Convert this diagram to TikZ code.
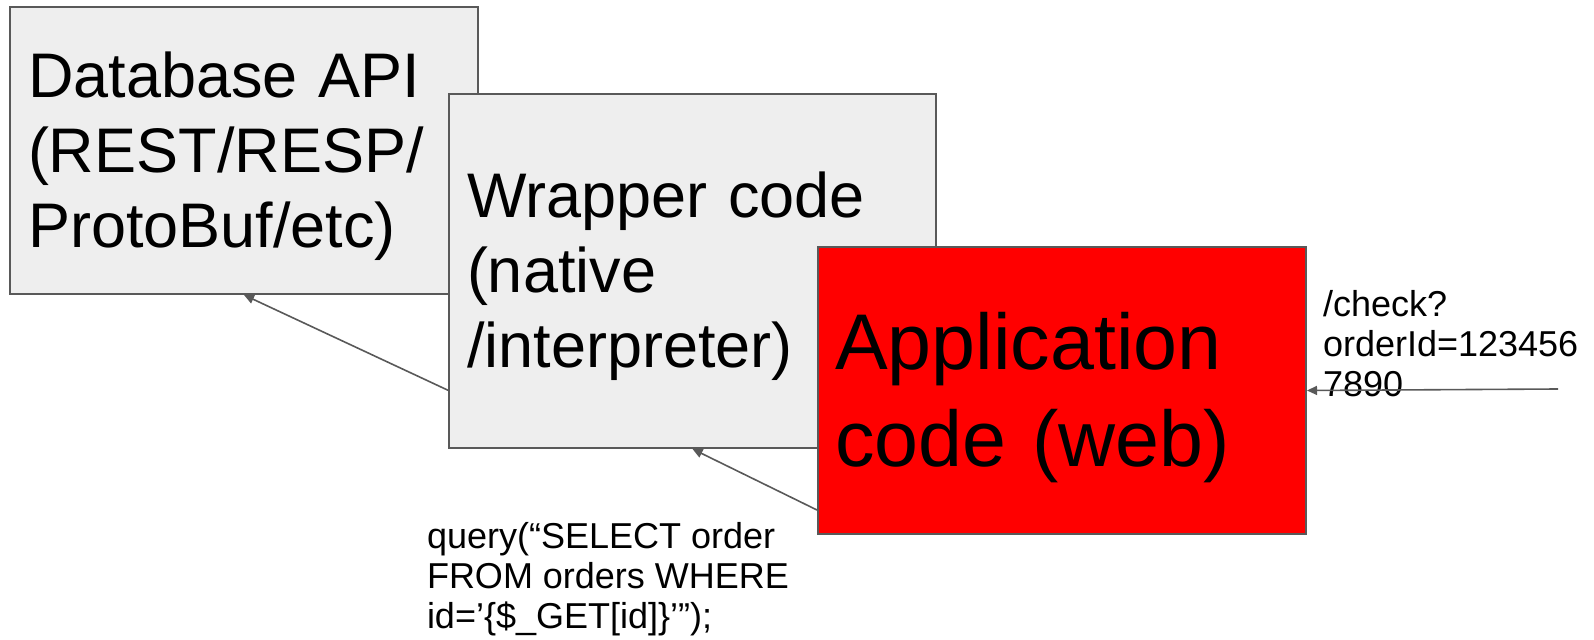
\documentclass[tikz,border=0pt]{standalone}
\usepackage{fontspec}
\setmainfont{Liberation Sans}
\usetikzlibrary{arrows.meta}
\definecolor{boxgray}{HTML}{EEEEEE}
\definecolor{linegray}{HTML}{595959}
\definecolor{appred}{HTML}{FF0000}
\newcommand{\topstrut}{\rule{0pt}{0.9em}}

\begin{document}
\begin{tikzpicture}[
		x=0.5pt, y=-0.5pt,
		line width=1pt,
		box/.style={draw=linegray, fill=boxgray, anchor=north west, align=left, inner ysep=0pt},
		arrow/.style={draw=linegray, line width=0.8pt, -{Triangle[length=5pt, width=4.5pt]}},
		note/.style={anchor=north west, align=left, inner sep=0pt, font=\fontsize{18}{20}\selectfont},
	]
	\useasboundingbox (0,0) rectangle (1594,640);

	\node (db) [box, inner xsep=9pt, text width=216pt, minimum height=143.5pt,
		font=\fontsize{31.5}{37.5}\selectfont] at (9,6) {\topstrut Database API\\(REST/RESP/\\ProtoBuf/etc)};
	\node (wrap) [box, inner xsep=9pt, text width=225.5pt, minimum height=177pt,
		font=\fontsize{31.5}{37.5}\selectfont] at (448,93) {\topstrut Wrapper code\\(native\\/interpreter)};
	\node (app) [box, fill=appred, inner xsep=8.5pt, text width=227pt, minimum height=143.5pt,
		font=\fontsize{39.5}{48.5}\selectfont] at (817,246) {\topstrut Application\\code (web)};

	\node (req) [note] at (1322,289) {/check?\\orderId=123456\\7890};
	\node (sql) [note] at (426,521) {query(“SELECT order\\FROM orders WHERE\\id=’\{\$\_GET[id]\}’”);};
	\coordinate (client) at (1558,389);

	\draw[arrow] (wrap.206.7) -- (db.south);
	\draw[arrow] (app.206.3) -- (wrap.south);
	\draw[arrow] (client) -- (app.east);
\end{tikzpicture}
\end{document}
